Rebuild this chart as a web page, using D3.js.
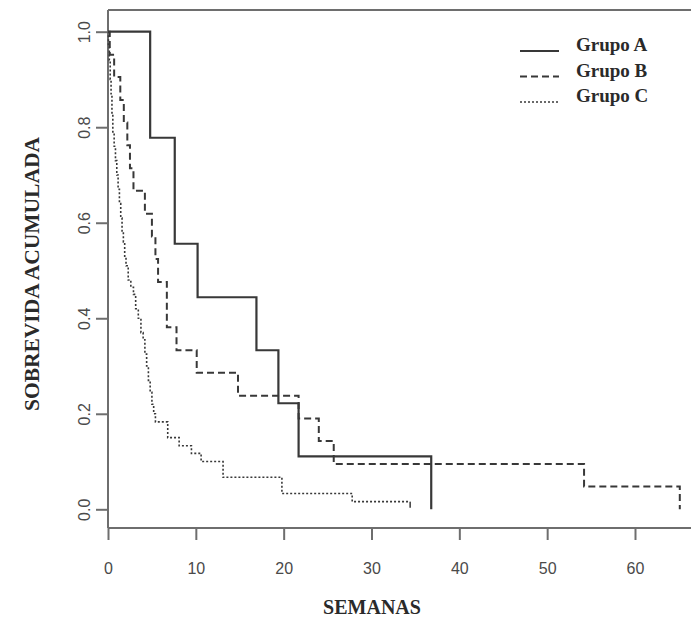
<!DOCTYPE html>
<html>
<head>
<meta charset="utf-8">
<script src="https://cdn.jsdelivr.net/npm/d3@7"></script>
<style>
  body { margin: 0; background: white; }
</style>
</head>
<body>
<div id="container"></div>
<script>
var w = 691;
var h = 624;

// survival steps (weeks, survival after the step)
var timesA = [4.8, 7.6, 10.2, 16.9, 19.4, 21.7, 36.8];
var survA  = [0.778, 0.556, 0.444, 0.333, 0.222, 0.111, 0];

var timesB = [0.2, 0.7, 1.4, 1.8, 2.2, 2.5, 2.9, 4.2, 5.0, 5.4, 5.7, 6.7, 7.8, 10.1, 14.8, 21.7, 24.0, 25.7, 54.2, 65.1];
var survB  = [0.952, 0.905, 0.857, 0.810, 0.762, 0.714, 0.667, 0.619, 0.571, 0.524, 0.476, 0.381, 0.333, 0.286, 0.238, 0.190, 0.143, 0.095, 0.048, 0];

var timesC = [0.05, 0.15, 0.25, 0.35, 0.45, 0.55, 0.7, 0.85, 1.0, 1.15, 1.3, 1.45, 1.6, 1.75, 1.9, 2.05, 2.3, 2.6, 2.9, 3.15, 3.45, 3.75, 4.0, 4.2, 4.4, 4.6, 4.8, 5.0, 5.2, 5.4, 6.8, 8.1, 9.5, 10.6, 13.1, 19.8, 27.8];
var survC  = [0.97, 0.94, 0.90, 0.87, 0.83, 0.79, 0.76, 0.73, 0.70, 0.67, 0.64, 0.61, 0.58, 0.56, 0.53, 0.51, 0.48, 0.465, 0.45, 0.42, 0.40, 0.37, 0.355, 0.325, 0.30, 0.27, 0.245, 0.22, 0.20, 0.183, 0.150, 0.133, 0.117, 0.10, 0.067, 0.033, 0.016];
var lastC = 34.4;

var groups = ["Grupo A", "Grupo B", "Grupo C"];
var xTicks = [0, 10, 20, 30, 40, 50, 60];
var yTicks = [0, 0.2, 0.4, 0.6, 0.8, 1.0];

var svg = d3.select("div#container").append("svg")
    .attr("width", w).attr("height", h)
    .style("background-color", "white");

var x = d3.scaleLinear().domain([0, 60]).range([108, 635]);
var y = d3.scaleLinear().domain([0, 1]).range([509.3, 31.7]);

var frame = "#6e6e6e";
var ink = "#383838";

// box (right side is cut off by the picture)
svg.append("line").attr("x1", 108).attr("x2", w).attr("y1", 10).attr("y2", 10)
    .attr("stroke", frame).attr("stroke-width", 2);

var gx = svg.append("g").attr("transform", "translate(0,528)");
gx.call(d3.axisBottom(x).tickValues(xTicks).tickSize(12).tickPadding(23).tickFormat(d3.format("d")));
gx.select(".domain").attr("d", "M108,0H" + w).attr("stroke", frame).attr("stroke-width", 2);
gx.selectAll(".tick line").attr("stroke", frame).attr("stroke-width", 2);
gx.selectAll(".tick text").attr("font-family", "Liberation Sans, Arial, sans-serif")
    .attr("font-size", 16).attr("fill", "#4a4a4a");

var gy = svg.append("g").attr("transform", "translate(108,0)");
gy.call(d3.axisLeft(y).tickValues(yTicks).tickSize(12).tickFormat(d3.format(".1f")));
gy.select(".domain").attr("d", "M0,10V528").attr("stroke", frame).attr("stroke-width", 2);
gy.selectAll(".tick line").attr("stroke", frame).attr("stroke-width", 2);
gy.selectAll(".tick text")
    .attr("x", null).attr("dy", null)
    .attr("transform", "translate(-24,0) rotate(-90)")
    .attr("dy", "0.35em")
    .attr("text-anchor", "middle")
    .attr("font-family", "Liberation Sans, Arial, sans-serif")
    .attr("font-size", 16).attr("fill", "#4a4a4a");

// titles
svg.append("text")
    .attr("transform", "translate(32,274) rotate(-90)")
    .attr("dy", "0.35em")
    .attr("text-anchor", "middle")
    .attr("font-family", "Liberation Serif, Times New Roman, serif")
    .attr("font-weight", "bold").attr("font-size", 20).attr("fill", "#2a2a2a")
    .attr("textLength", 274).attr("lengthAdjust", "spacingAndGlyphs")
    .text("SOBREVIDA  ACUMULADA");

svg.append("text")
    .attr("x", 372).attr("y", 614)
    .attr("text-anchor", "middle")
    .attr("font-family", "Liberation Serif, Times New Roman, serif")
    .attr("font-weight", "bold").attr("font-size", 20).attr("fill", "#2a2a2a")
    .text("SEMANAS");

// step curves
function steps(times, surv, end) {
  var pts = [[0, 1]];
  times.forEach(function(t, i) { pts.push([t, surv[i]]); });
  if (end != null) pts.push([end, surv[surv.length - 1]]);
  return pts;
}

var line = d3.line()
    .x(function(d) { return x(d[0]); })
    .y(function(d) { return y(d[1]); })
    .curve(d3.curveStepAfter);

var styles = [
  { dash: null, width: 2.2 },
  { dash: "7,4", width: 2 },
  { dash: "2,2", width: 1.6 }
];

var curves = [steps(timesA, survA), steps(timesB, survB), steps(timesC, survC, lastC)];

svg.append("g").selectAll("path")
    .data(curves)
    .enter().append("path")
    .attr("d", line)
    .attr("fill", "none")
    .attr("stroke", ink)
    .attr("stroke-width", function(d, i) { return styles[i].width; })
    .attr("stroke-dasharray", function(d, i) { return styles[i].dash; });

// censor mark at the end of group C
svg.append("line")
    .attr("x1", x(lastC)).attr("x2", x(lastC))
    .attr("y1", y(survC[survC.length - 1])).attr("y2", y(survC[survC.length - 1]) + 6)
    .attr("stroke", ink).attr("stroke-width", 1.5);

// legend
var lg = svg.append("g").selectAll("g")
    .data(groups)
    .enter().append("g")
    .attr("transform", function(d, i) { return "translate(0," + (51 + i * 25.5) + ")"; });

lg.append("line")
    .attr("x1", 520).attr("x2", 559).attr("y1", 0).attr("y2", 0)
    .attr("stroke", ink)
    .attr("stroke-width", function(d, i) { return styles[i].width; })
    .attr("stroke-dasharray", function(d, i) { return styles[i].dash; });

lg.append("text")
    .attr("x", 576).attr("y", 0)
    .attr("font-family", "Liberation Serif, Times New Roman, serif")
    .attr("font-weight", "bold").attr("font-size", 19).attr("fill", "#2a2a2a")
    .text(function(d) { return d; });
</script>
</body>
</html>
